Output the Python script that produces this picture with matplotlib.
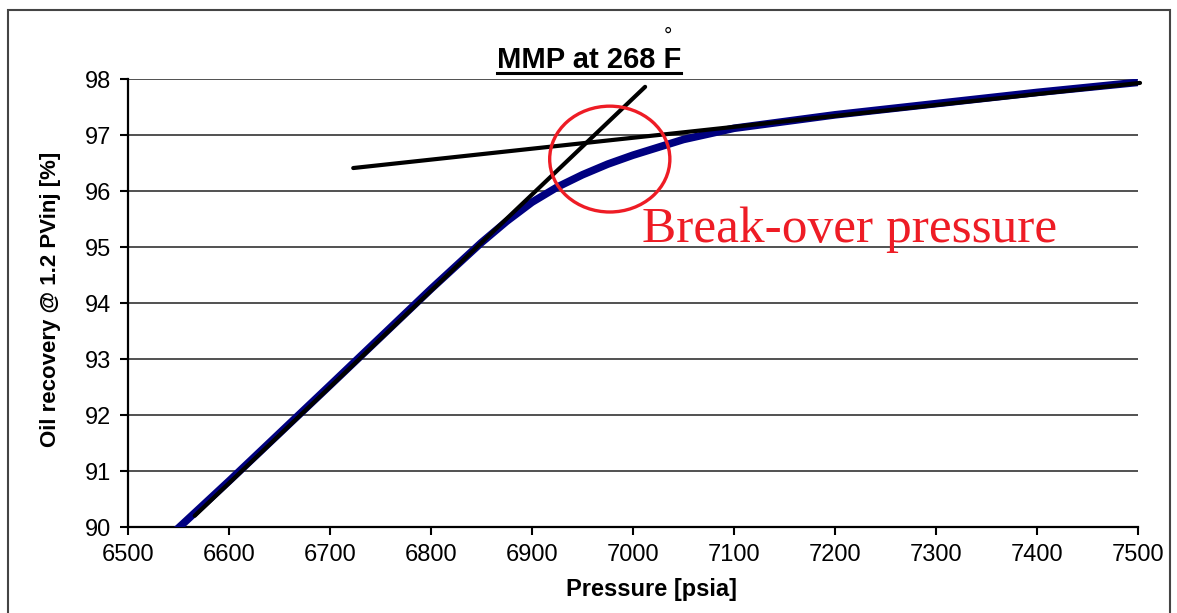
import matplotlib
matplotlib.use('Agg')
import matplotlib.pyplot as plt
from matplotlib.patches import Ellipse, Rectangle
from matplotlib.lines import Line2D

plt.rcParams['font.family'] = ['Liberation Sans', 'DejaVu Sans']

# simulated recovery vs pressure
pressure = [6548, 6600, 6700, 6800, 6850, 6875, 6900, 6925, 6950, 6975,
            7000, 7050, 7100, 7200, 7300, 7400, 7500]
recovery = [89.95, 90.82, 92.53, 94.25, 95.08, 95.46, 95.80, 96.07, 96.29, 96.48,
            96.64, 96.92, 97.12, 97.36, 97.56, 97.76, 97.94]

# the two straight-line fits
steep_x = [6566, 7012]
steep_y = [90.2, 97.86]
flat_x = [6723, 7502]
flat_y = [96.41, 97.93]

# break-over circle (centre, width, height in data units)
circle_center = (6977, 96.57)
circle_w, circle_h = 119, 1.89

x_ticks = [6500, 6600, 6700, 6800, 6900, 7000, 7100, 7200, 7300, 7400, 7500]
y_ticks = [90, 91, 92, 93, 94, 95, 96, 97, 98]

fig = plt.figure(figsize=(11.77, 6.13), dpi=100)
ax = fig.add_axes([128 / 1177, 1 - 527 / 613, 1010 / 1177, 448 / 613])

# grid
for v in y_ticks:
    ax.axhline(v, color='#222222', lw=1.1, zorder=1)

ax.plot(pressure, recovery, color='#000080', lw=5.5, solid_capstyle='butt', zorder=3)
ax.plot(steep_x, steep_y, color='black', lw=3, solid_capstyle='round', zorder=4)
ax.plot(flat_x, flat_y, color='black', lw=3, solid_capstyle='round', zorder=4, clip_on=False)

ax.add_patch(Ellipse(circle_center, circle_w, circle_h, fill=False,
                     edgecolor='#ee1c25', lw=2.4, zorder=5))
ax.text(7009, 95.09, 'Break-over pressure', color='#ee1c25', fontsize=37,
        family=['Liberation Serif', 'DejaVu Serif'], va='baseline', ha='left', zorder=6)

ax.set_xlim(6500, 7500)
ax.set_ylim(90, 98)
ax.set_xticks(x_ticks)
ax.set_yticks(y_ticks)
ax.tick_params(direction='out', length=6, width=1.5, labelsize=17, pad=6, color='black')
for s in ['top', 'right']:
    ax.spines[s].set_visible(False)
for s in ['left', 'bottom']:
    ax.spines[s].set_linewidth(1.6)

ax.set_xlabel('Pressure [psia]', fontsize=17, fontweight='bold')
ax.set_ylabel('Oil recovery @ 1.2 PVinj [%]', fontsize=16, fontweight='bold')
ax.xaxis.set_label_coords(0.518, -0.113)
ax.yaxis.set_label_coords(-0.066, 0.507)

# title with underline and degree sign
title = fig.text(589 / 1177, 1 - 68 / 613, 'MMP at 268 F', fontsize=21, fontweight='bold',
                 ha='center', va='baseline')
fig.text(668 / 1177, 1 - 42 / 613, '\u00b0', fontsize=15, ha='center', va='baseline')
fig.canvas.draw()
bb = title.get_window_extent(fig.canvas.get_renderer())
uy = 1 - 73 / 613
fig.add_artist(Line2D([bb.x0 / 1177, bb.x1 / 1177], [uy, uy], color='black', lw=2.2))

# outer frame
fig.add_artist(Rectangle((8 / 1177, -0.02), 1162 / 1177, 1.02 - 10 / 613,
                         transform=fig.transFigure, fill=False, edgecolor='#444444', lw=1.5))

fig.savefig('out.png', dpi=100)
